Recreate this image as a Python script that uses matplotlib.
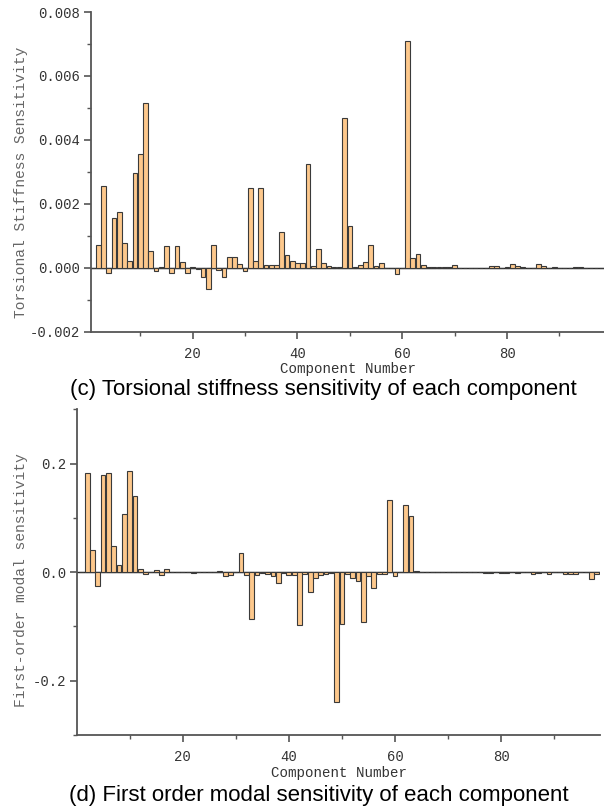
import numpy as np
import matplotlib
matplotlib.use("Agg")
import matplotlib.pyplot as plt
from matplotlib.ticker import MultipleLocator, FuncFormatter

components = np.arange(1, 99)

# (c) Torsional stiffness sensitivity, units of 1e-3
torsional_milli = [
    0.00, 0.70, 2.56, -0.15, 1.57, 1.73, 0.78, 0.20, 2.95, 3.57,
    5.16, 0.51, -0.09, 0.01, 0.68, -0.17, 0.68, 0.17, -0.16, 0.03,
    -0.04, -0.28, -0.65, 0.72, -0.07, -0.30, 0.35, 0.33, 0.11, -0.10,
    2.49, 0.20, 2.49, 0.10, 0.10, 0.10, 1.13, 0.39, 0.21, 0.14,
    0.14, 3.23, 0.05, 0.60, 0.15, 0.07, 0.02, 0.01, 4.67, 1.32,
    0.02, 0.10, 0.17, 0.71, 0.04, 0.16, 0.00, 0.00, -0.18, 0.00,
    7.08, 0.29, 0.44, 0.10, 0.02, 0.01, 0.01, 0.01, 0.01, 0.08,
    0.00, 0.00, 0.00, 0.00, 0.00, 0.00, 0.05, 0.06, 0.00, 0.02,
    0.11, 0.04, 0.03, 0.00, 0.00, 0.13, 0.06, 0.00, 0.02, 0.00,
    0.00, 0.00, 0.03, 0.03, 0.00, 0.00, 0.00, 0.00,
]
torsional = np.array(torsional_milli) * 1e-3

# (d) First-order modal sensitivity
modal = [
    0.000, 0.183, 0.040, -0.025, 0.179, 0.182, 0.049, 0.014, 0.108, 0.186,
    0.141, 0.005, -0.004, 0.000, 0.004, -0.005, 0.005, 0.000, 0.000, 0.000,
    0.000, -0.002, 0.000, 0.001, 0.001, 0.000, 0.003, -0.007, -0.005, 0.000,
    0.036, -0.005, -0.086, -0.005, -0.002, -0.003, -0.007, -0.020, -0.001, -0.005,
    -0.005, -0.097, -0.004, -0.037, -0.011, -0.005, -0.003, -0.001, -0.240, -0.095,
    -0.003, -0.011, -0.016, -0.092, -0.008, -0.029, -0.004, -0.004, 0.132, -0.007,
    0.000, 0.123, 0.104, 0.002, 0.001, 0.001, 0.001, 0.000, 0.000, 0.000,
    0.000, 0.000, 0.000, 0.000, 0.000, 0.000, -0.001, -0.002, 0.000, -0.002,
    -0.002, 0.000, -0.002, 0.000, 0.000, -0.003, -0.002, 0.000, -0.003, 0.000,
    0.000, -0.003, -0.003, -0.003, 0.000, 0.000, -0.012, -0.004,
]

bar_color = "#FDC88C"
edge_color = "#3a3a3a"
spine_color = "#555555"
mono = "Liberation Mono"

fig = plt.figure(figsize=(6.04, 8.11), dpi=100)
W, H = 604, 811

def add_axes(left, right, top, bottom):
    return fig.add_axes([left / W, 1 - bottom / H, (right - left) / W, (bottom - top) / H])

def style(ax, ylabel, ymaj, ymin_, fmt, label_xy):
    for s in ["top", "right"]:
        ax.spines[s].set_visible(False)
    for s in ["left", "bottom"]:
        ax.spines[s].set_color(spine_color)
        ax.spines[s].set_linewidth(1.3)
    ax.xaxis.set_major_locator(MultipleLocator(20))
    ax.xaxis.set_minor_locator(MultipleLocator(10))
    ax.yaxis.set_major_locator(MultipleLocator(ymaj))
    ax.yaxis.set_minor_locator(MultipleLocator(ymin_))
    ax.yaxis.set_major_formatter(FuncFormatter(fmt))
    ax.tick_params(which="major", length=5, width=1.2, color=spine_color,
                   labelsize=10, labelcolor="#333333", pad=3)
    ax.tick_params(axis="x", which="major", pad=6)
    ax.tick_params(which="minor", length=3, width=1.0, color=spine_color)
    for lab in ax.get_xticklabels() + ax.get_yticklabels():
        lab.set_fontfamily(mono)
    ax.set_xlabel("Component Number", fontfamily=mono, fontsize=10.2,
                  color="#333333", labelpad=1)
    ax.set_ylabel(ylabel, fontfamily=mono, fontsize=10.5, color="#666666")
    ax.yaxis.set_label_coords(*label_xy)
    ax.axhline(0, color="#222222", lw=1.0, zorder=1)

# Top chart
ax1 = add_axes(91, 604, 12, 331.7)
ax1.bar(components, torsional, width=0.9, color=bar_color, edgecolor=edge_color,
        linewidth=0.8, zorder=2)
ax1.set_xlim(0.6, 98.5)
ax1.set_ylim(-0.002, 0.008)
style(ax1, "Torsional Stiffness Sensitivity", 0.002, 0.001,
      lambda v, p: f"{v:.3f}", (-0.123, 0.468))
fig.text(323 / W, 1 - 389 / H, "(c) Torsional stiffness sensitivity of each component",
         ha="center", va="center", fontsize=16, family="Liberation Sans", color="black")

# Bottom chart
ax2 = add_axes(77.3, 600, 409.3, 735)
ax2.bar(components, modal, width=0.9, color=bar_color, edgecolor=edge_color,
        linewidth=0.8, zorder=2)
ax2.set_xlim(0.15, 98.6)
ax2.set_ylim(-0.3, 0.3)
style(ax2, "First-order modal sensitivity", 0.2, 0.1,
      lambda v, p: f"{v:.1f}" if abs(v) > 1e-9 else "0.0", (-0.095, 0.476))
fig.text(319 / W, 1 - 796 / H, "(d) First order modal sensitivity of each component",
         ha="center", va="center", fontsize=16, family="Liberation Sans", color="black")

fig.savefig("out.png", dpi=100)
